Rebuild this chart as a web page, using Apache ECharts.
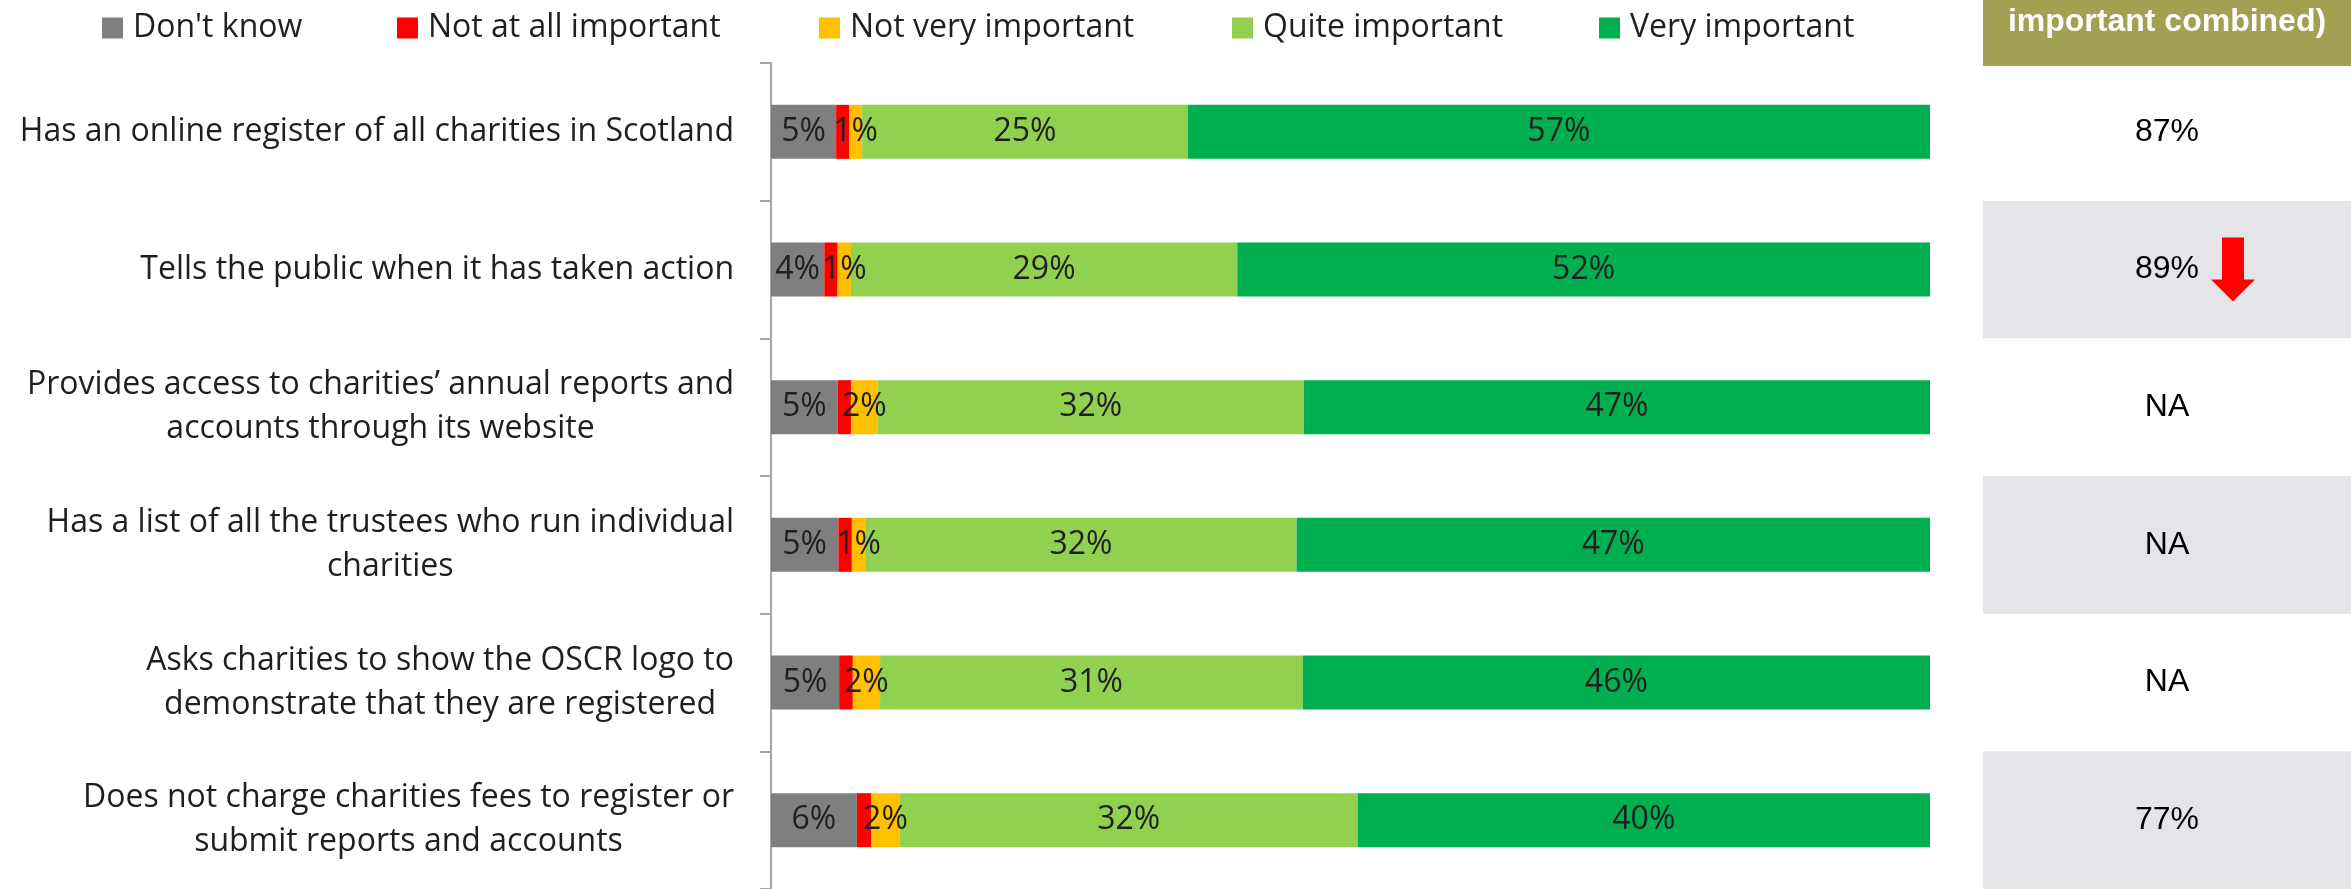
<!DOCTYPE html>
<html>
<head>
<meta charset="utf-8">
<script src="https://cdn.jsdelivr.net/npm/echarts@6/dist/echarts.min.js"></script>
<style>
html,body{margin:0;padding:0;background:#fff;}
#chart{width:2351px;height:889px;}
</style>
</head>
<body>
<div id="chart"></div>
<script>
// ---- data ----
var categories = [
  'Has an online register of all charities in Scotland',
  'Tells the public when it has taken action',
  'Provides access to charities\u2019 annual reports and\naccounts through its website',
  'Has a list of all the trustees who run individual\ncharities',
  'Asks charities to show the OSCR logo to\ndemonstrate that they are registered',
  'Does not charge charities fees to register or\nsubmit reports and accounts'
];
var seriesNames = ["Don't know", 'Not at all important', 'Not very important', 'Quite important', 'Very important'];
var dontKnow        = [5, 4, 5, 5, 5, 6];
var notAtAll        = [1, 1, 1, 1, 1, 1];
var notVery         = [1, 1, 2, 1, 2, 2];
var quiteImportant  = [25, 29, 32, 32, 31, 32];
var veryImportant   = [57, 52, 47, 47, 46, 40];
var combined        = ['87%', '89%', 'NA', 'NA', 'NA', '77%'];
var trend           = ['', 'down', '', '', '', ''];
var headerText      = 'important combined)';

// ---- styles ----
var colors = ['#7F7F7F', '#FF0000', '#FFC000', '#92D050', '#00B050'];
var showLabel = [true, false, true, true, true];
var legendLeft = [102, 397, 819, 1232, 1599];
var rawSeries = [dontKnow, notAtAll, notVery, quiteImportant, veryImportant];
var rowSums = categories.map(function (c, i) {
  return rawSeries.reduce(function (s, arr) { return s + arr[i]; }, 0);
});

var chart = echarts.init(document.getElementById('chart'), null, {renderer: 'canvas'});

var series = rawSeries.map(function (arr, k) {
  return {
    name: seriesNames[k],
    type: 'bar',
    stack: 'total',
    xAxisIndex: 0, yAxisIndex: 0,
    barWidth: 54,
    itemStyle: {color: colors[k]},
    label: {
      show: showLabel[k],
      position: 'inside',
      fontFamily: 'Open Sans',
      fontSize: 32,
      color: '#1f1f1f',
      formatter: function (p) { return arr[p.dataIndex] + '%'; }
    },
    emphasis: {disabled: true},
    data: arr.map(function (v, i) { return v / rowSums[i] * 100; })
  };
});

// right-hand panel
series.push({
  type: 'bar',
  xAxisIndex: 1, yAxisIndex: 1,
  barWidth: '100%',
  barGap: '-100%',
  itemStyle: {color: '#E4E5E9'},
  silent: true,
  data: categories.map(function (c, i) { return i % 2 === 1 ? 1 : 0; })
});
series.push({
  type: 'bar',
  xAxisIndex: 1, yAxisIndex: 1,
  barWidth: '100%',
  barGap: '-100%',
  itemStyle: {color: 'rgba(0,0,0,0)'},
  silent: true,
  label: {
    show: true,
    position: 'inside',
    fontFamily: 'Liberation Sans',
    fontSize: 32,
    color: '#000',
    formatter: function (p) { return combined[p.dataIndex]; }
  },
  data: categories.map(function () { return 1; })
});
series.push({
  type: 'scatter',
  xAxisIndex: 1, yAxisIndex: 1,
  symbol: 'path://M11,0 L33,0 L33,42 L44,42 L22,64 L0,42 L11,42 Z',
  symbolSize: [44, 64],
  symbolOffset: [66, 0],
  itemStyle: {color: '#FF0000', opacity: 1},
  silent: true,
  data: trend.map(function (t, i) { return t === 'down' ? [0.5, i] : null; }).filter(function (d) { return d; })
});

var legends = seriesNames.map(function (n, k) {
  return {
    data: [n],
    left: legendLeft[k],
    top: 12,
    padding: 0,
    itemGap: 0,
    itemWidth: 21,
    itemHeight: 21,
    icon: 'rect',
    selectedMode: false,
    textStyle: {fontFamily: 'Open Sans', fontSize: 32, color: '#1f1f1f', padding: [0, 0, 0, 5]}
  };
});

chart.setOption({
  animation: false,
  backgroundColor: '#fff',
  legend: legends,
  grid: [
    {left: 771, width: 1159, top: 63, height: 828},
    {left: 1983, width: 368, top: 63, height: 828}
  ],
  xAxis: [
    {type: 'value', min: 0, max: 100, show: false, gridIndex: 0},
    {type: 'value', min: 0, max: 1, show: false, gridIndex: 1}
  ],
  yAxis: [
    {
      type: 'category', data: categories, inverse: true, gridIndex: 0,
      axisLine: {show: true, lineStyle: {color: '#A6A6A6', width: 2}},
      axisTick: {show: true, length: 11, lineStyle: {color: '#A6A6A6', width: 2}},
      axisLabel: {
        margin: 37,
        formatter: function (v) {
          return v.split('\n').map(function (l) { return '{c|' + l + '}'; }).join('\n');
        },
        rich: {
          c: {fontFamily: 'Open Sans', fontSize: 32, color: '#1f1f1f', align: 'center', lineHeight: 44}
        }
      },
      splitLine: {show: false}
    },
    {type: 'category', data: categories, inverse: true, gridIndex: 1, show: false}
  ],
  graphic: [
    {type: 'rect', left: 1983, top: 0, shape: {width: 368, height: 66}, style: {fill: '#A2A052'}, silent: true},
    {type: 'text', x: 2167, y: 22, style: {text: headerText, fill: '#fff', font: 'bold 32px "Liberation Sans"', textAlign: 'center', textVerticalAlign: 'middle'}, silent: true}
  ],
  series: series
});
</script>
</body>
</html>
